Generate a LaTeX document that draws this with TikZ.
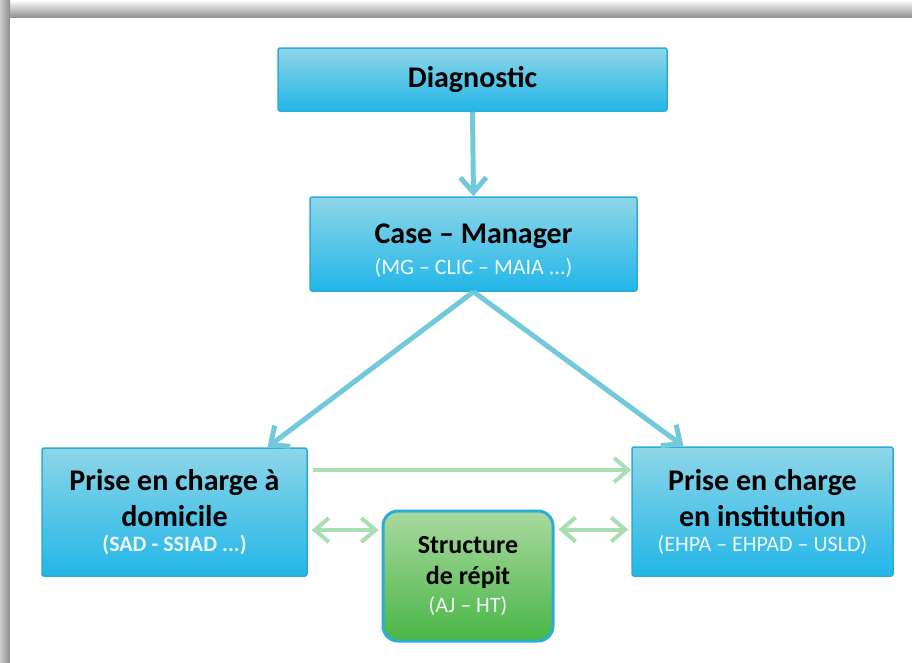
\documentclass[tikz,border=0pt]{standalone}
\usepackage{fontspec}
\setmainfont{Carlito}
\usetikzlibrary{arrows.meta}

\definecolor{boxtop}{HTML}{8ED6E8}
\definecolor{boxbot}{HTML}{22B6E8}
\definecolor{boxline}{HTML}{2AAED8}
\definecolor{greentop}{HTML}{AAD99F}
\definecolor{greenbot}{HTML}{48B646}
\definecolor{arrowblue}{HTML}{72C9DB}
\definecolor{arrowgreen}{HTML}{AADDB2}
\definecolor{subtext}{HTML}{EEF8FB}

\newcommand\boxtitle{\fontsize{30}{36}\selectfont\bfseries}
\newcommand\boxsub{\fontsize{22}{26}\selectfont\mdseries\color{subtext}}

\begin{document}
\begin{tikzpicture}[x=1pt, y=-1pt,
  bluebox/.style={draw=boxline, line width=1.5pt, rounded corners=2pt,
    top color=boxtop, bottom color=boxbot, align=center, inner sep=0pt,
    font=\boxtitle},
  greenbox/.style={draw=boxline, line width=3pt, rounded corners=15pt,
    top color=greentop, bottom color=greenbot, align=center, inner sep=0pt,
    font=\fontsize{26}{31}\selectfont\bfseries},
  bluearrow/.style={draw=arrowblue, line width=5pt,
    -{Straight Barb[length=15pt, width=26pt]}},
  greenarrow/.style={draw=arrowgreen, line width=4pt,
    -{Straight Barb[length=14pt, width=24pt]}},
  dblarrow/.style={draw=arrowgreen, line width=4pt,
    {Straight Barb[length=14pt, width=24pt]}-{Straight Barb[length=14pt, width=24pt]}}]
\useasboundingbox (0,0) rectangle (912,662);

% page with its shadow
\shade[top color=white, bottom color=black!45] (0,0) rectangle (912,18);
\shade[left color=black!20, right color=black!45] (0,0) rectangle (10,662);
\fill[white] (10,18) rectangle (912,662);

\node[bluebox, minimum width=389pt, minimum height=63pt] (diag) at (472.5,79.5)
  {Diagnostic};
\node[bluebox, minimum width=327pt, minimum height=94pt] (case) at (473.5,244)
  {\rule{0pt}{34pt}Case – Manager\\[-5pt]\boxsub (MG – CLIC – MAIA ...)};
\node[bluebox, minimum width=265pt, minimum height=128pt] (dom) at (174.5,512)
  {Prise en charge à\\domicile\\[-11pt]\boxsub\bfseries (SAD - SSIAD ...)};
\node[bluebox, minimum width=261pt, minimum height=129pt] (inst) at (762.5,511.5)
  {Prise en charge\\en institution\\[-11pt]\boxsub (EHPA – EHPAD – USLD)};
\node[greenbox, minimum width=170pt, minimum height=130pt] (rep) at (468,576)
  {Structure\\de répit\\[-3pt]\boxsub (AJ – HT)};

\draw[bluearrow] (diag.south) -- (case.north);
\draw[bluearrow] (case.south) -- ([xshift=93pt]dom.north);
\draw[bluearrow] (case.south) -- ([xshift=-79pt]inst.north);

\coordinate (top) at ([xshift=5pt, yshift=42pt]dom.east);
\draw[greenarrow] (top) -- (top -| inst.west);
\coordinate (dl) at ([xshift=4pt, yshift=-18pt]dom.east);
\draw[dblarrow] (dl) -- ([xshift=-3pt]dl -| rep.west);
\coordinate (dr) at ([xshift=-3pt, yshift=-18pt]inst.west);
\draw[dblarrow] ([xshift=4pt]dr -| rep.east) -- (dr);
\end{tikzpicture}
\end{document}
